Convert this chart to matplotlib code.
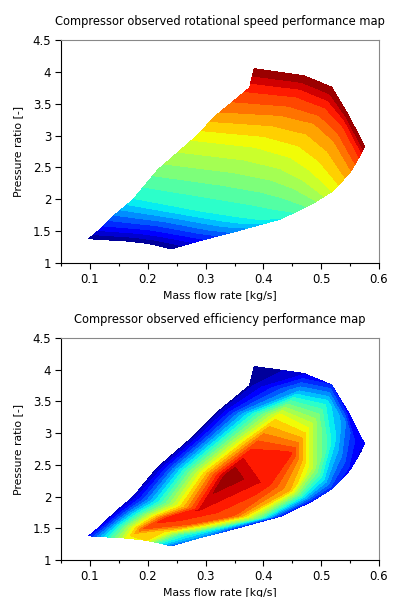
import numpy as np
import matplotlib
matplotlib.use('Agg')
import matplotlib.pyplot as plt

# speed lines of the compressor map, lowest to highest [krpm]
speeds = [50, 60, 70, 80, 90, 100, 110, 120, 130]

# mass flow [kg/s] along each speed line, surge -> choke
mass = [
    [0.098, 0.162, 0.197, 0.219, 0.240],
    [0.120, 0.195, 0.235, 0.260, 0.290],
    [0.145, 0.235, 0.280, 0.310, 0.350],
    [0.174, 0.289, 0.353, 0.392, 0.430],
    [0.217, 0.338, 0.405, 0.445, 0.485],
    [0.279, 0.388, 0.448, 0.485, 0.520],
    [0.320, 0.426, 0.485, 0.520, 0.550],
    [0.376, 0.462, 0.510, 0.539, 0.568],
    [0.384, 0.470, 0.518, 0.546, 0.575],
]

# pressure ratio [-] at the same points
pratio = [
    [1.38, 1.345, 1.31, 1.27, 1.22],
    [1.55, 1.50, 1.44, 1.40, 1.35],
    [1.77, 1.66, 1.58, 1.53, 1.49],
    [1.99, 1.79, 1.70, 1.66, 1.69],
    [2.46, 2.32, 2.21, 2.10, 1.93],
    [2.95, 2.84, 2.68, 2.45, 2.13],
    [3.33, 3.28, 3.16, 2.88, 2.42],
    [3.75, 3.66, 3.48, 3.20, 2.70],
    [4.05, 3.94, 3.76, 3.34, 2.83],
]

# relative efficiency at the same points
eff = [
    [0.12, 0.60, 0.65, 0.40, 0.20],
    [0.08, 0.80, 0.62, 0.40, 0.25],
    [0.05, 0.86, 0.80, 0.55, 0.15],
    [0.05, 0.88, 0.78, 0.45, 0.12],
    [0.03, 0.97, 0.86, 0.70, 0.12],
    [0.03, 0.80, 0.84, 0.55, 0.15],
    [0.03, 0.62, 0.55, 0.35, 0.12],
    [0.03, 0.28, 0.35, 0.25, 0.08],
    [0.00, 0.08, 0.14, 0.10, 0.10],
]

xticks = [0.1, 0.2, 0.3, 0.4, 0.5, 0.6]
xminor = [0.05, 0.15, 0.25, 0.35, 0.45, 0.55]
yticks = [1, 1.5, 2, 2.5, 3, 3.5, 4, 4.5]

plt.rcParams['font.family'] = 'DejaVu Sans'

M = np.array(mass)
P = np.array(pratio)
S = np.repeat(np.array(speeds, float)[:, None], M.shape[1], axis=1)
E = np.array(eff)

fig = plt.figure(figsize=(3.94, 5.97), dpi=100)
ax1 = fig.add_axes([0.155, 0.5595, 0.807, 0.3735])
ax2 = fig.add_axes([0.155, 0.062, 0.807, 0.372])


def style(ax, title):
    ax.set_xlim(0.05, 0.6)
    ax.set_ylim(1, 4.5)
    ax.set_xticks(xticks)
    ax.set_xticklabels(['%g' % t for t in xticks])
    ax.set_xticks(xminor, minor=True)
    ax.set_yticks(yticks)
    ax.set_yticklabels(['%g' % t for t in yticks])
    ax.tick_params(which='major', direction='out', length=4, width=0.8,
                   labelsize=8.5, pad=3)
    ax.tick_params(which='minor', direction='out', length=2.5, width=0.8)
    ax.tick_params(axis='y', which='minor', left=False)
    for side in ['top', 'right']:
        ax.spines[side].set_color('#888888')
    ax.set_title(title, fontsize=8.3, pad=11)
    ax.set_xlabel('Mass flow rate [kg/s]', fontsize=7.8, labelpad=4)
    ax.set_ylabel('Pressure ratio [-]', fontsize=7.8, labelpad=7)


ax1.contourf(M, P, S, levels=np.linspace(S.min(), S.max(), 22), cmap='jet')
style(ax1, 'Compressor observed rotational speed performance map')

ax2.contourf(M, P, E, levels=np.linspace(E.min(), E.max(), 22), cmap='jet')
style(ax2, 'Compressor observed efficiency performance map')

fig.savefig('out.png', dpi=100)
